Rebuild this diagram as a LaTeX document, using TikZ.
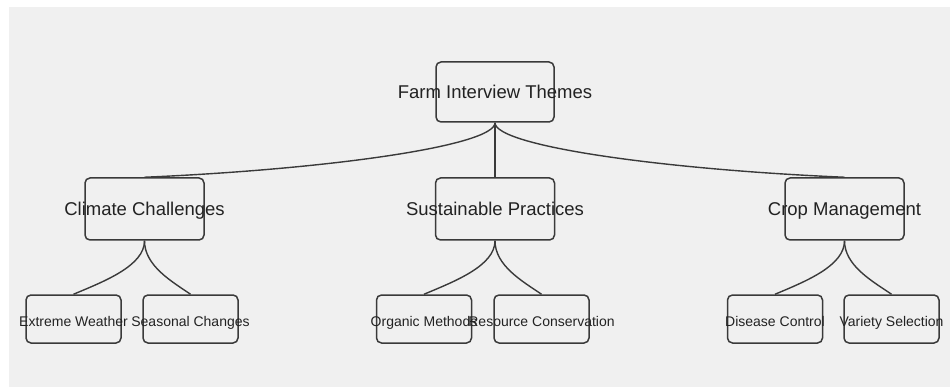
\documentclass[tikz,border=0pt]{standalone}
\usepackage{fontspec}
\setmainfont{Liberation Sans}
\definecolor{bggray}{HTML}{F0F0F0}
\definecolor{edgegray}{HTML}{3A3A3A}
\definecolor{inkgray}{HTML}{222222}
\begin{document}
\begin{tikzpicture}[x=1pt,y=-1pt,
  box/.style={draw=edgegray, line width=1.5pt, rounded corners=5pt, fill=bggray, inner sep=0pt},
  bigtext/.style={font=\fontsize{18.5}{20}\selectfont, text=inkgray, inner sep=0pt, text height=0.8em, text depth=0pt, yshift=-3pt},
  smalltext/.style={font=\fontsize{14}{16}\selectfont, text=inkgray, inner sep=0pt, text height=0.8em, text depth=0pt, yshift=-3pt},
  topbox/.style={box, minimum width=118pt, minimum height=60pt},
  midbox/.style={box, minimum width=119pt, minimum height=62pt},
  leafbox/.style={box, minimum width=95pt, minimum height=48pt},
  link/.style={draw=edgegray, line width=1.4pt}
]
% canvas
\useasboundingbox (0,0) rectangle (950,387);
\fill[bggray] (9,7) rectangle (950,387);

% root
\node[topbox, label={[bigtext]center:Farm Interview Themes}] (root) at (495,92) {};

% themes
\node[midbox, label={[bigtext]center:Climate Challenges}] (climate) at (144.5,209) {};
\node[midbox, label={[bigtext]center:Sustainable Practices}] (sustain) at (495,209) {};
\node[midbox, label={[bigtext]center:Crop Management}] (crop) at (844.5,209) {};

% sub-themes
\node[leafbox, label={[smalltext]center:Extreme Weather}] (extreme) at (73.5,319) {};
\node[leafbox, label={[smalltext]center:Seasonal Changes}] (seasonal) at (190.5,319) {};
\node[leafbox, label={[smalltext]center:Organic Methods}] (organic) at (424,319) {};
\node[leafbox, label={[smalltext]center:Resource Conservation}] (resource) at (541.5,319) {};
\node[leafbox, label={[smalltext]center:Disease Control}] (disease) at (775,319) {};
\node[leafbox, label={[smalltext]center:Variety Selection}] (variety) at (891.5,319) {};

% root to themes
\draw[link] (root.south) .. controls +(0,23) and +(185,-8) .. (climate.north);
\draw[link] (root.south) -- (sustain.north);
\draw[link] (root.south) .. controls +(0,23) and +(-185,-8) .. (crop.north);

% themes to sub-themes
\foreach \p/\l/\r in {climate/extreme/seasonal, sustain/organic/resource, crop/disease/variety}{
  \draw[link] (\p.south) .. controls +(0,25) and +(31,-13) .. (\l.north);
  \draw[link] (\p.south) .. controls +(0,25) and +(-19,-13) .. (\r.north);
}
\end{tikzpicture}
\end{document}
